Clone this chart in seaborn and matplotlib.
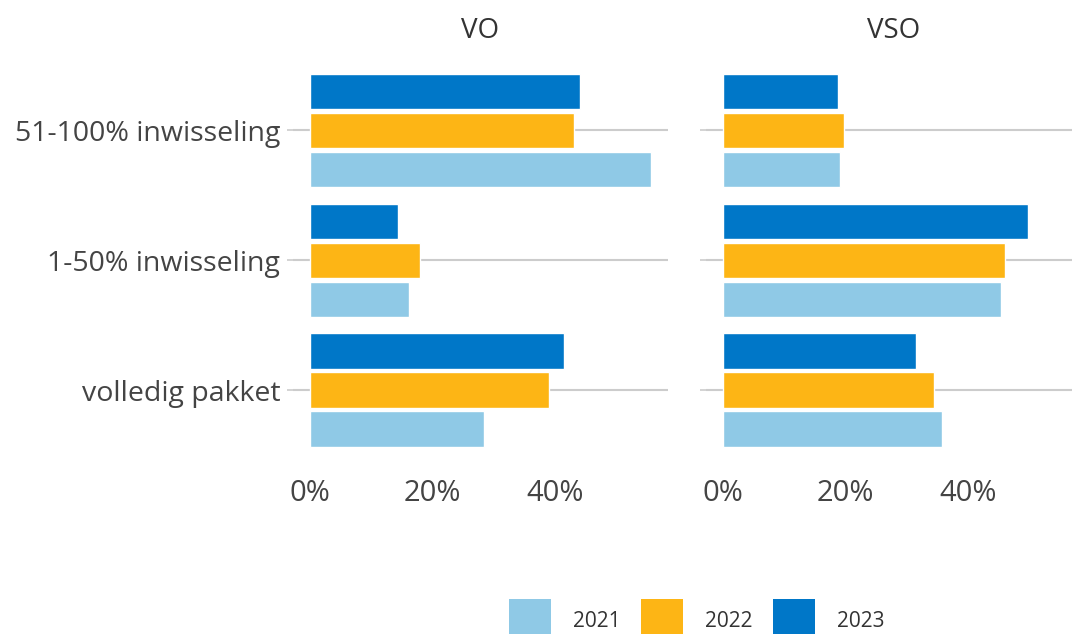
import pandas as pd
import seaborn as sns
import matplotlib.pyplot as plt
from matplotlib.patches import Patch
from matplotlib.ticker import FuncFormatter

# categorieën en waarden (percentages)
categories = ['51-100% inwisseling', '1-50% inwisseling', 'volledig pakket']
years = ['2021', '2022', '2023']
vo_2021 = [55.7, 16.1, 28.4]
vo_2022 = [43.2, 17.9, 39.0]
vo_2023 = [44.2, 14.4, 41.5]
vso_2021 = [19.1, 45.4, 35.7]
vso_2022 = [19.8, 46.1, 34.4]
vso_2023 = [18.8, 49.9, 31.6]
colors = {'2021': '#8fc9e6', '2022': '#fdb515', '2023': '#0077c8'}

rows = []
for panel, series in [('VO', [vo_2021, vo_2022, vo_2023]),
                      ('VSO', [vso_2021, vso_2022, vso_2023])]:
    for year, vals in zip(years, series):
        for cat, v in zip(categories, vals):
            rows.append({'panel': panel, 'categorie': cat, 'jaar': year, 'waarde': v})
df = pd.DataFrame(rows)

sns.set_theme(style='white')
plt.rcParams['font.family'] = ['Open Sans', 'DejaVu Sans']
text_col = '#444444'

fig = plt.figure(figsize=(10.72, 6.34), dpi=100)
ax1 = fig.add_axes([0.2733, 0.2618, 0.3498, 0.656])
ax2 = fig.add_axes([0.6586, 0.2618, 0.3498, 0.656])

for ax, panel in [(ax1, 'VO'), (ax2, 'VSO')]:
    sub = df[df['panel'] == panel]
    sns.barplot(data=sub, x='waarde', y='categorie', hue='jaar', order=categories,
                hue_order=['2023', '2022', '2021'], palette=colors, orient='h',
                width=0.9, gap=0.1, saturation=1, legend=False, ax=ax)
    ax.set_xlim(-2.8, 58.5)
    ax.set_ylim(2.6, -0.6)
    ax.set_xticks([0, 20, 40])
    ax.xaxis.set_major_formatter(FuncFormatter(lambda v, p: f'{v:.0f}%'))
    ax.grid(axis='y', color='#cccccc', linewidth=1.5)
    ax.grid(axis='x', visible=False)
    ax.set_axisbelow(True)
    sns.despine(ax=ax, left=True, bottom=True)
    ax.set_xlabel('')
    ax.set_ylabel('')
    ax.set_title(panel, fontsize=20, color='#333333', pad=10)
    ax.tick_params(axis='x', length=5, width=1.2, color='#333333', labelsize=21,
                   labelcolor=text_col, pad=3)
    ax.tick_params(axis='y', length=4, width=1.2, color='#cccccc', labelsize=20.5,
                   labelcolor=text_col, pad=5, left=True)

ax2.set_yticklabels([])

handles = [Patch(facecolor=colors[y], edgecolor='none', label=y) for y in years]
fig.legend(handles=handles, loc='lower center', bbox_to_anchor=(0.65, -0.045), ncol=3,
           frameon=False, fontsize=15, handlelength=2.0, handleheight=2.95,
           handletextpad=1.05, columnspacing=1.0, labelcolor='#333333')

fig.savefig('out.png', dpi=100)
